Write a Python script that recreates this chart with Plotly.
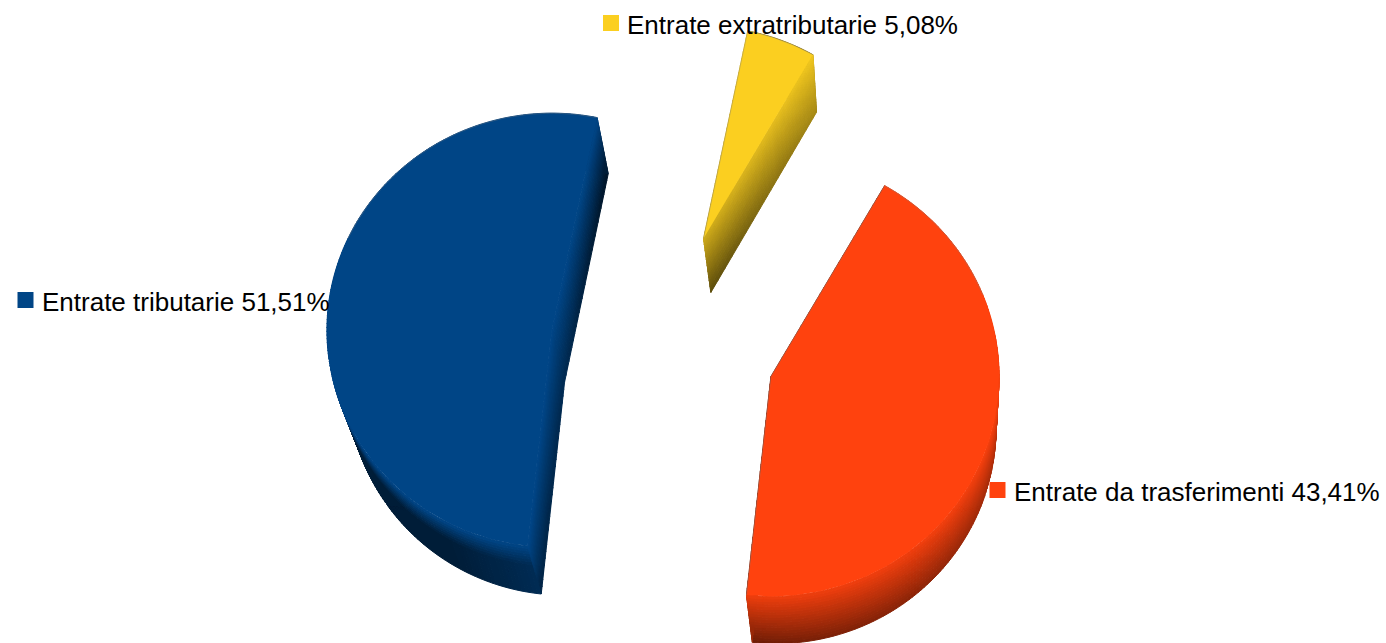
import numpy as np
import plotly.graph_objects as go

# --- data ---
categories = ["Entrate tributarie", "Entrate da trasferimenti", "Entrate extratributarie"]
shares = [51.51, 43.41, 5.08]
colors = [(0, 69, 134), (255, 66, 14), (251, 207, 32)]

# --- pie geometry (pixel-valued axes) ---
W, H = 1386, 643
CX, CY = 663.5, 344.5
RX, RY = 226, 218
PULL = 0.5
PULL_V = 1.03
START_DEG = 78.4
SHEAR = -6
DEPTH_SCALE = 0.06
GREY = "rgba(130,130,130,0.45)"


def slice_frame(mid):
    m = np.radians(mid)
    pu, pv = PULL * np.cos(m), PULL * np.sin(m)
    ox = CX + RX * pu
    oy = CY - RY * PULL_V * pv + SHEAR * pu
    return ox, oy, 1 - DEPTH_SCALE * pv


def rim_point(theta, mid):
    ox, oy, s = slice_frame(mid)
    t = np.radians(theta)
    return ox + RX * s * np.cos(t), oy - RY * s * np.sin(t)


def extrude(x, y):
    return 0.965 * x + 32, 0.981 * y + 58.5


def lerp(a, b, t):
    return a + (b - a) * t


fig = go.Figure()


def add_quads(buckets, rgb):
    for lvl in sorted(buckets):
        xs, ys = [], []
        for q in buckets[lvl]:
            for (x, y) in q + [q[0]]:
                xs.append(x)
                ys.append(y)
            xs.append(None)
            ys.append(None)
        c = "rgb(%d,%d,%d)" % tuple(int(round(k * lvl)) for k in rgb)
        fig.add_trace(go.Scatter(x=xs, y=ys, mode="lines", fill="toself", fillcolor=c,
                                 line=dict(color=c, width=1), hoverinfo="skip", showlegend=False))


def band(path, shade, buckets, nw=18):
    """path: list of (x, y, s); quads between path and its extruded copy."""
    for i in range(len(path) - 1):
        x0, y0, s0 = path[i]
        x1, y1, s1 = path[i + 1]
        ex0, ey0 = extrude(x0, y0)
        ex1, ey1 = extrude(x1, y1)
        for j in range(nw):
            w0, w1 = j / nw, (j + 1) / nw
            q = [(lerp(x0, ex0, w0), lerp(y0, ey0, w0)), (lerp(x1, ex1, w0), lerp(y1, ey1, w0)),
                 (lerp(x1, ex1, w1), lerp(y1, ey1, w1)), (lerp(x0, ex0, w1), lerp(y0, ey0, w1))]
            b = shade((s0 + s1) / 2, (w0 + w1) / 2)
            lvl = round(b * 100) / 100
            buckets.setdefault(lvl, []).append(q)


def outer_shade(idx):
    def f(s, w):
        if idx == 0:  # blue rim
            end = lerp(0.42, 0.62, max(0, (s - 0.88) / 0.12))
            return 1 - (1 - end) * min(1, w / 0.4)
        if idx == 1:  # orange rim
            end = lerp(0.42, 0.85, s)
            return 1 - (1 - end) * (0.12 + 0.88 * w)
        return 0.6
    return f


def face_shade(idx, which):
    def f(s, w):  # s: 0 at the rim, 1 at the apex
        if idx == 0:
            end = lerp(0.30, 0.62, s) if which == 0 else lerp(0.52, 0.62, s)
            return 1 - (1 - end) * min(1, w / 0.9)
        if idx == 2:
            b0 = lerp(0.96, 0.82, s)
            end = lerp(0.66, 0.36, s)
            return lerp(b0, end, w)
        return 0.6
    return f


a = START_DEG
tops = []
for idx, share in enumerate(shares):
    sweep = share * 3.6
    mid = a + sweep / 2
    thetas = np.linspace(a, a + sweep, max(8, int(sweep)))
    ax, ay, _ = slice_frame(mid)
    rim = [rim_point(t, mid) for t in thetas]
    buckets = {}
    band([(x, y, k / (len(rim) - 1)) for k, (x, y) in enumerate(rim)], outer_shade(idx), buckets)
    for which, (ex, ey) in enumerate([rim[0], rim[-1]]):
        path = [(lerp(ex, ax, s), lerp(ey, ay, s), s) for s in np.linspace(0, 1, 31)]
        band(path, face_shade(idx, which), buckets)
    add_quads(buckets, colors[idx])
    tops.append(([ax] + [p[0] for p in rim] + [ax], [ay] + [p[1] for p in rim] + [ay], colors[idx], rim, ax, ay))
    a += sweep

for xs, ys, rgb, rim, ax, ay in tops:
    fig.add_trace(go.Scatter(x=xs, y=ys, mode="lines", fill="toself",
                             fillcolor="rgb(%d,%d,%d)" % rgb,
                             line=dict(color="rgb(%d,%d,%d)" % rgb, width=0),
                             hoverinfo="skip", showlegend=False))

# thin grey edges only where the top face meets the white background
n0 = len(tops[0][3])
n1 = len(tops[1][3])
edge_runs = [
    [(p[0], p[1]) for p in tops[0][3][: int(n0 * 0.42)]],
    [tops[1][3][0], (tops[1][4], tops[1][5]), tops[1][3][-1]],
    [(p[0], p[1]) for p in tops[1][3][int(n1 * 0.75):]],
    [(tops[2][4], tops[2][5])] + [tuple(p) for p in tops[2][3][::-1]],
]
for run in edge_runs:
    fig.add_trace(go.Scatter(x=[p[0] for p in run], y=[p[1] for p in run], mode="lines",
                             line=dict(color=GREY, width=0.8), hoverinfo="skip", showlegend=False))

# --- labels with square keys ---
label_pos = [(25.5, 300), (997.5, 490), (611, 23)]
annotations = []
for name, share, rgb, (kx, ky) in zip(categories, shares, colors, label_pos):
    fig.add_trace(go.Scatter(x=[kx], y=[ky], mode="markers", hoverinfo="skip", showlegend=False,
                             marker=dict(symbol="square", size=16, color="rgb(%d,%d,%d)" % rgb,
                                         line=dict(width=0))))
    annotations.append(dict(x=kx + 14, y=ky + 1.5, xref="x", yref="y", xanchor="left", yanchor="middle",
                            showarrow=False, align="left",
                            text=f"{name} {share:.2f}%".replace(".", ","),
                            font=dict(family="Liberation Sans", size=26, color="black")))

fig.update_layout(width=W, height=H, autosize=False, margin=dict(l=0, r=0, t=0, b=0),
                  paper_bgcolor="white", plot_bgcolor="white", showlegend=False,
                  annotations=annotations,
                  xaxis=dict(range=[0, W], visible=False, fixedrange=True),
                  yaxis=dict(range=[H, 0], visible=False, fixedrange=True))
fig.write_html("out.html", config=dict(displayModeBar=False),
               post_script="document.body.style.margin='0';document.body.style.overflow='hidden';")
